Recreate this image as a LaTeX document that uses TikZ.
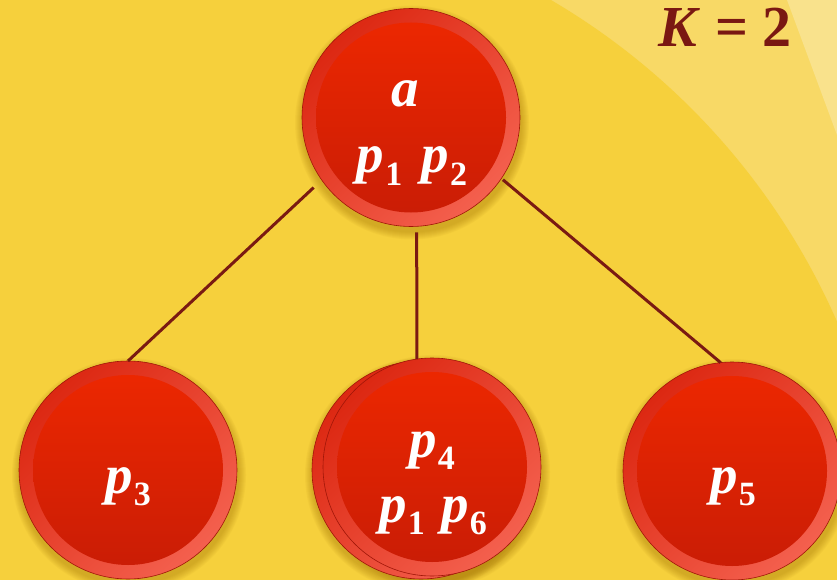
\documentclass[tikz,border=0pt]{standalone}
\usepackage{fontspec}
\setmainfont{Liberation Serif}[BoldFont={Liberation Serif Bold},ItalicFont={Liberation Serif Italic},BoldItalicFont={Liberation Serif Bold Italic}]
\definecolor{bgmain}{HTML}{F6D03C}
\definecolor{bgband}{HTML}{F8D966}
\definecolor{bglight}{HTML}{F9E28C}
\definecolor{linec}{HTML}{7A1A12}
\definecolor{ktext}{HTML}{7A1812}
\definecolor{ringa}{HTML}{DC2812}
\definecolor{ringb}{HTML}{C81C0A}
\definecolor{ringc}{HTML}{F4604E}
\definecolor{ina}{HTML}{EE2800}
\definecolor{inb}{HTML}{C81C06}
\definecolor{shadowc}{HTML}{9A6A00}
\newcommand{\pv}[1]{p\kern0.02em\raisebox{-0.22em}{\fontsize{34}{36}\selectfont\upshape #1}}
\tikzset{
  ball/.style={circle, minimum size=218pt, inner sep=0pt, outer sep=0pt,
    draw=ringb!80!black, line width=0.6pt,
    top color=ringa, middle color=ringb, bottom color=ringc, shading angle=45,
    path picture={\shade[top color=ina, bottom color=inb]
      (path picture bounding box.center) circle (95pt);}},
  lbl/.style={text=white, inner sep=0pt, anchor=base,
    font=\fontsize{55}{60}\selectfont\bfseries\itshape},
  conn/.style={draw=linec, line width=3pt},
}
\begin{document}
\begin{tikzpicture}[x=1pt,y=1pt]
\useasboundingbox (0,0) rectangle (837,-580);
% background
\begin{scope}
\clip (0,0) rectangle (837,-580);
\fill[bgband] (0,0) rectangle (837,-580);
\fill[bgmain] (200,-600) circle (695);
\fill[bglight] (787,0) -- (837,0) -- (837,-135) -- cycle;
\end{scope}
% shadows
\foreach \cx/\cy in {411/117.5, 128/470, 421/470, 432/467, 732/471}{
  \foreach \k in {0,1,...,7}{
    \fill[shadowc, opacity=0.05] (\cx+1,-\cy-5) circle (110+\k);
  }
}
% nodes
\node[ball] (a) at (411,-117.5) {};
\node[ball] (p3) at (128,-470) {};
\node[ball] (p4b) at (421,-470) {};
\node[ball] (p4) at (432,-467) {};
\node[ball] (p5) at (732,-471) {};
% connectors
\draw[conn, shorten <=11pt] (a.215) -- (p3.north);
\draw[conn, shorten <=6pt] (a.273) -- (p4.98);
\draw[conn, shorten <=2pt] (a.326) -- (p5.96);
% labels
\node[lbl] (ta) at (405,-107) {a};
\node[lbl] (ta2) at (412,-173) {\pv{1}\hspace{0.35em}\pv{2}};
\node[lbl] (t3) at (128,-493) {\pv{3}};
\node[lbl] (t4) at (432,-457) {\pv{4}};
\node[lbl] (t46) at (433,-522) {\pv{1}\hspace{0.3em}\pv{6}};
\node[lbl] (t5) at (733,-493) {\pv{5}};
\node[text=ktext, inner sep=0pt, anchor=base east, font=\fontsize{58}{62}\selectfont\bfseries] (kk) at (792,-47) {\textit{K} = 2};
\end{tikzpicture}
\end{document}
